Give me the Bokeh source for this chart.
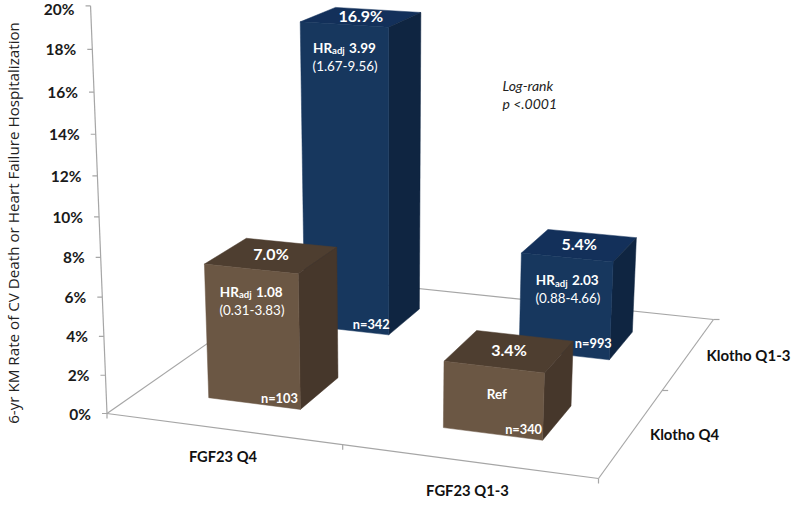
from math import pi
from bokeh.plotting import figure
from bokeh.models import Range1d
from bokeh.core.properties import value
from bokeh.embed import file_html
from bokeh.resources import INLINE

# ---- data ----
fgf_labels = ["FGF23 Q4", "FGF23 Q1-3"]
klotho_labels = ["Klotho Q4", "Klotho Q1-3"]
y_ticks = [0, 2, 4, 6, 8, 10, 12, 14, 16, 18, 20]
rate_klotho_q4 = [7.0, 3.4]
rate_klotho_q13 = [16.9, 5.4]
n_klotho_q4 = [103, 340]
n_klotho_q13 = [342, 993]
hr_klotho_q4 = ["1.08", None]
hr_klotho_q13 = ["3.99", "2.03"]
ci_klotho_q4 = ["(0.31-3.83)", None]
ci_klotho_q13 = ["(1.67-9.56)", "(0.88-4.66)"]
y_title = "6-yr KM  Rate of CV Death or Heart Failure Hospitalization"
note_lines = ["Log-rank", "p <.0001"]

# ---- perspective camera (floor corners in page pixels, vertical vanishing point) ----
A, B, C, D = (106.5, 413), (598, 478), (713, 319), (303, 276)
VP_BARS = (390, 6000)
VP_AXIS = (332, 6000)
K = 0.0034
dx1, dy1 = B[0] - C[0], B[1] - C[1]
dx2, dy2 = D[0] - C[0], D[1] - C[1]
sx, sy = A[0] - B[0] + C[0] - D[0], A[1] - B[1] + C[1] - D[1]
den = dx1 * dy2 - dx2 * dy1
g = (sx * dy2 - dx2 * sy) / den
h_ = (dx1 * sy - sx * dy1) / den
a1, b1 = B[0] - A[0] + g * B[0], D[0] - A[0] + h_ * D[0]
a2, b2 = B[1] - A[1] + g * B[1], D[1] - A[1] + h_ * D[1]


def project(u, v, h=0.0, vp=VP_BARS):
    s = -K * h
    w = g * u + h_ * v + 1 + s
    return ((a1 * u + b1 * v + A[0] + s * vp[0]) / w,
            (a2 * u + b2 * v + A[1] + s * vp[1]) / w)


def axis_pt(t):
    return project(0, 0, t, VP_AXIS)


BROWN = ("#4e3e30", "#46372b", "#6b5744")
BLUE = ("#13305a", "#0f2541", "#17375e")
HALF = 0.1
CENTERS = (0.25, 0.75)

p = figure(width=800, height=505, x_range=Range1d(0, 800), y_range=Range1d(505, 0),
           output_backend="svg", toolbar_location=None,
           x_axis_location=None, y_axis_location=None, min_border=0)
p.grid.visible = False
p.outline_line_color = None
p.styles = {"position": "absolute", "left": "0px", "top": "0px"}

# ---- axes of the 3-D frame ----
AXIS = "#a6a6a6"
lines = [(axis_pt(0), axis_pt(y_ticks[-1])),
         (project(0, 0), project(1, 0)), (project(1, 0), project(1, 1)),
         (project(1, 1), project(0, 1)), (project(0, 1), project(0, 0))]
for t in y_ticks:
    x, y = axis_pt(t)
    lines.append(((x - 5, y), (x, y)))
for u in (0, 0.5, 1):
    x, y = project(u, 0)
    lines.append(((x, y), (x, y + 5)))
for v in (0.5, 1):
    x, y = project(1, v)
    lines.append(((x, y), (x + 6, y)))
p.multi_line([[l[0][0], l[1][0]] for l in lines], [[l[0][1], l[1][1]] for l in lines],
             line_color=AXIS, line_width=1.2)

LAT = value("Lato")


def label(x, y, s, size, color="white", style="bold", align="center", font=LAT, angle=0):
    p.text([x], [y], text=[s], text_font=font, text_font_size=f"{size}px", text_font_style=style,
           text_color=color, text_align=align, text_baseline="middle", angle=angle)


# ---- bars (painter's order: back row first) ----
bars = []
for iv, (rates, ns, hrs, cis, cols) in list(enumerate([
        (rate_klotho_q4, n_klotho_q4, hr_klotho_q4, ci_klotho_q4, BROWN),
        (rate_klotho_q13, n_klotho_q13, hr_klotho_q13, ci_klotho_q13, BLUE)]))[::-1]:
    for iu in range(2):
        bars.append((CENTERS[iu], CENTERS[iv], rates[iu], ns[iu], hrs[iu], cis[iu], cols))

for cu, cv, r, n, hr, ci, cols in bars:
    u0, u1, v0, v1 = cu - HALF, cu + HALF, cv - HALF, cv + HALF
    faces = [([(u0, v0, r), (u1, v0, r), (u1, v1, r), (u0, v1, r)], cols[0]),
             ([(u1, v0, 0), (u1, v1, 0), (u1, v1, r), (u1, v0, r)], cols[1]),
             ([(u0, v0, 0), (u1, v0, 0), (u1, v0, r), (u0, v0, r)], cols[2])]
    for pts, col in faces:
        xy = [project(*q) for q in pts]
        p.patch([q[0] for q in xy], [q[1] for q in xy], fill_color=col, line_color=col, line_width=0.5)

# ---- texts on the bars ----
# pixel offset of each "n=" label from the front-bottom-right corner of its bar
N_OFFSET = {103: (-21, -11.5), 342: (-17.5, -10.5), 340: (-19, -11.5), 993: (-16, -16.5)}
for cu, cv, r, n, hr, ci, cols in bars:
    x, y = project(cu, cv, r)
    label(x - 0.5, y - 2, f"{r:.1f}%", 16)
    fx, fy = project(cu, cv - HALF, r)
    if hr is None:
        label(fx + 3, fy + 27, "Ref", 13.5)
    else:
        label(fx - 12, fy + 23, "HR", 13.5, align="right")
        label(fx - 12, fy + 26, "adj", 9.5, align="left")
        label(fx + 5, fy + 23, hr, 13.5, align="left")
        label(fx + 1, fy + 41, ci, 13.4, style="normal")
    bx, by = project(cu + HALF, cv - HALF)
    ox, oy = N_OFFSET[n]
    label(bx + ox, by + oy, f"n={n}", 12.8)

# ---- axis texts ----
for t in y_ticks:
    x, y = axis_pt(t)
    # the top label is nudged down just enough to stay inside the page
    label(x - 16, y + (3.5 if t == y_ticks[-1] else 0), f"{t}%", 15.5, color="#1a1a1a", align="right")
label(12, 220.5, y_title, 15.2, color="#222222", style="normal", font=value("Open Sans"), angle=pi / 2)

label(222.5, 455.5, fgf_labels[0], 14.7, color="#111111")
label(467, 489, fgf_labels[1], 14.8, color="#111111")
label(684, 433, klotho_labels[0], 14.9, color="#111111")
label(748, 354.5, klotho_labels[1], 15, color="#111111")

label(502, 85, note_lines[0], 14, color="#222222", style="italic", align="left")
label(502, 103, note_lines[1], 14, color="#222222", style="italic", align="left")

open("out.html", "w").write(file_html(p, INLINE))
